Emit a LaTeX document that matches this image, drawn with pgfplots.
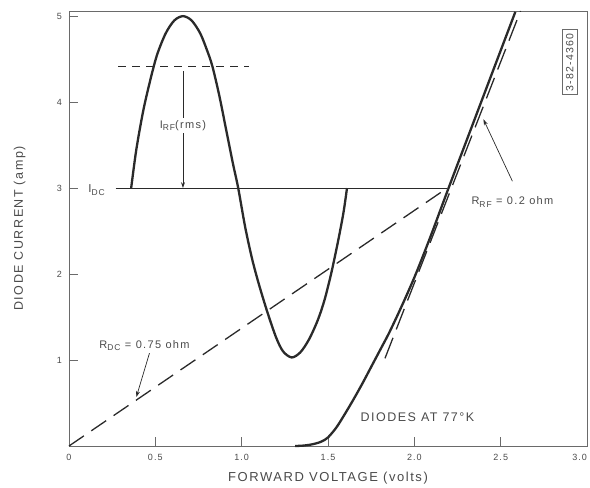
\documentclass[border=0pt]{standalone}
\usepackage{fontspec}
\setmainfont{Liberation Sans}
\newfontfamily\lett[LetterSpace=12]{Liberation Sans}
\usepackage{pgfplots}
\pgfplotsset{compat=1.18}
\usetikzlibrary{arrows.meta}
\definecolor{ink}{HTML}{2A2A2A}
\definecolor{txt}{HTML}{4A4A4A}
\definecolor{frame}{HTML}{6A6A6A}
\newcommand{\sub}[1]{\raisebox{-0.45ex}{\fontsize{8.5}{10}\selectfont #1}}
\begin{document}
\begin{tikzpicture}
\begin{axis}[
  scale only axis,
  width=518pt, height=435pt,
  xmin=0, xmax=3, ymin=0, ymax=5.06,
  clip=false,
  axis line style={frame, line width=0.8pt},
  tick style={frame, line width=0.8pt},
  tick align=inside,
  major tick length=9pt,
  xtick pos=left, ytick pos=left,
  xtick={0,0.5,1,1.5,2,2.5,3},
  xticklabels={0,0.5,1.0,1.5,2.0,2.5,\llap{3.0}},
  ytick={1,2,3,4,5},
  yticklabels={1,2,3,4,5},
  /pgf/number format/assume math mode=true,
  ticklabel style={font=\lett\fontsize{9}{10}\selectfont, text=txt},
  xticklabel style={yshift=-4.5pt},
  yticklabel style={xshift=-3.5pt},
  xlabel={FORWARD VOLTAGE (volts)},
  ylabel={DIODE CURRENT (amp)},
  every axis x label/.style={at={(axis description cs:0.5,-0.074)}, anchor=center, font=\lett\fontsize{13}{15}\selectfont, text=txt},
  every axis y label/.style={at={(axis description cs:-0.0955,0.5)}, anchor=center, rotate=90, font=\lett\fontsize{12.5}{15}\selectfont, text=txt},
]
% RF current waveform
\addplot[ink, line width=2.3pt, smooth] coordinates {
(0.36,3.0)(0.39,3.45)(0.43,3.90)(0.47,4.25)(0.51,4.55)(0.56,4.80)(0.61,4.95)(0.66,5.0)
(0.71,4.95)(0.76,4.80)(0.80,4.60)(0.83,4.42)(0.87,4.08)(0.91,3.68)(0.95,3.28)(0.98,3.0)
(1.02,2.55)(1.06,2.18)(1.10,1.88)(1.15,1.55)(1.20,1.26)(1.24,1.10)(1.29,1.03)
(1.34,1.09)(1.39,1.24)(1.44,1.46)(1.48,1.70)(1.52,2.02)(1.56,2.40)(1.59,2.72)(1.61,3.0)
};
% diode characteristic
\addplot[ink, line width=2.3pt, smooth] coordinates {
(1.31,0.0)(1.36,0.005)(1.41,0.02)(1.46,0.05)(1.50,0.10)(1.55,0.22)(1.60,0.38)
(1.65,0.55)(1.70,0.73)(1.75,0.92)(1.80,1.11)(1.85,1.30)(1.90,1.51)(1.95,1.73)
(2.00,1.96)(2.05,2.21)(2.10,2.47)(2.15,2.74)(2.20,3.01)(2.30,3.54)(2.40,4.07)
(2.50,4.60)(2.585,5.05)
};
% I_DC level
\addplot[ink, line width=1.1pt] coordinates {(0.27,3.0)(2.19,3.0)};
% rms level
\addplot[ink, line width=1.0pt, dash pattern=on 8pt off 6pt] coordinates {(0.285,4.42)(1.04,4.42)};
% R_DC load line
\addplot[ink, line width=1.3pt, dash pattern=on 18pt off 9pt] coordinates {(0,0)(2.19,3.0)};
% R_RF tangent
\addplot[ink, line width=1.3pt, dash pattern=on 22pt off 9pt] coordinates {(1.83,1.02)(2.615,5.06)};

% I_RF arrow and label
\draw[ink, line width=0.7pt, -{Stealth[length=6pt,width=4pt]}] (axis cs:0.66,4.36) -- (axis cs:0.66,3.0);
\node[fill=white, inner sep=2pt, text=txt, font=\lett\fontsize{11}{13}\selectfont] at (axis cs:0.66,3.73) {I\sub{RF}(rms)};
\node[text=txt, font=\lett\fontsize{11.5}{13}\selectfont] at (axis cs:0.16,2.98) {I\sub{DC}};
% R_DC
\node[text=txt, font=\lett\fontsize{11}{13}\selectfont] at (axis cs:0.437,1.17) {R\sub{DC} = 0.75 ohm};
\draw[ink, line width=0.7pt, -{Stealth[length=6pt,width=4pt]}] (axis cs:0.466,1.08) -- (axis cs:0.39,0.57);
% R_RF
\node[text=txt, font=\lett\fontsize{11}{13}\selectfont] at (axis cs:2.568,2.84) {R\sub{RF} = 0.2 ohm};
\draw[ink, line width=0.7pt, -{Stealth[length=6pt,width=4pt]}] (axis cs:2.568,3.08) -- (axis cs:2.40,3.80);
% temperature note
\node[text=txt, font=\lett\fontsize{12.5}{14}\selectfont] at (axis cs:2.018,0.337) {DIODES AT 77°K};
% drawing number
\node[draw=frame, line width=0.7pt, rotate=90, inner sep=3.5pt, text=txt, font=\lett\fontsize{10.5}{12}\selectfont] at (axis cs:2.90,4.465) {3-82-4360};
\end{axis}
\pgfresetboundingbox
\path[use as bounding box] ([shift={(-69pt,-41pt)}]current axis.south west) rectangle ([shift={(3pt,11pt)}]current axis.north east);
\end{tikzpicture}
\end{document}
